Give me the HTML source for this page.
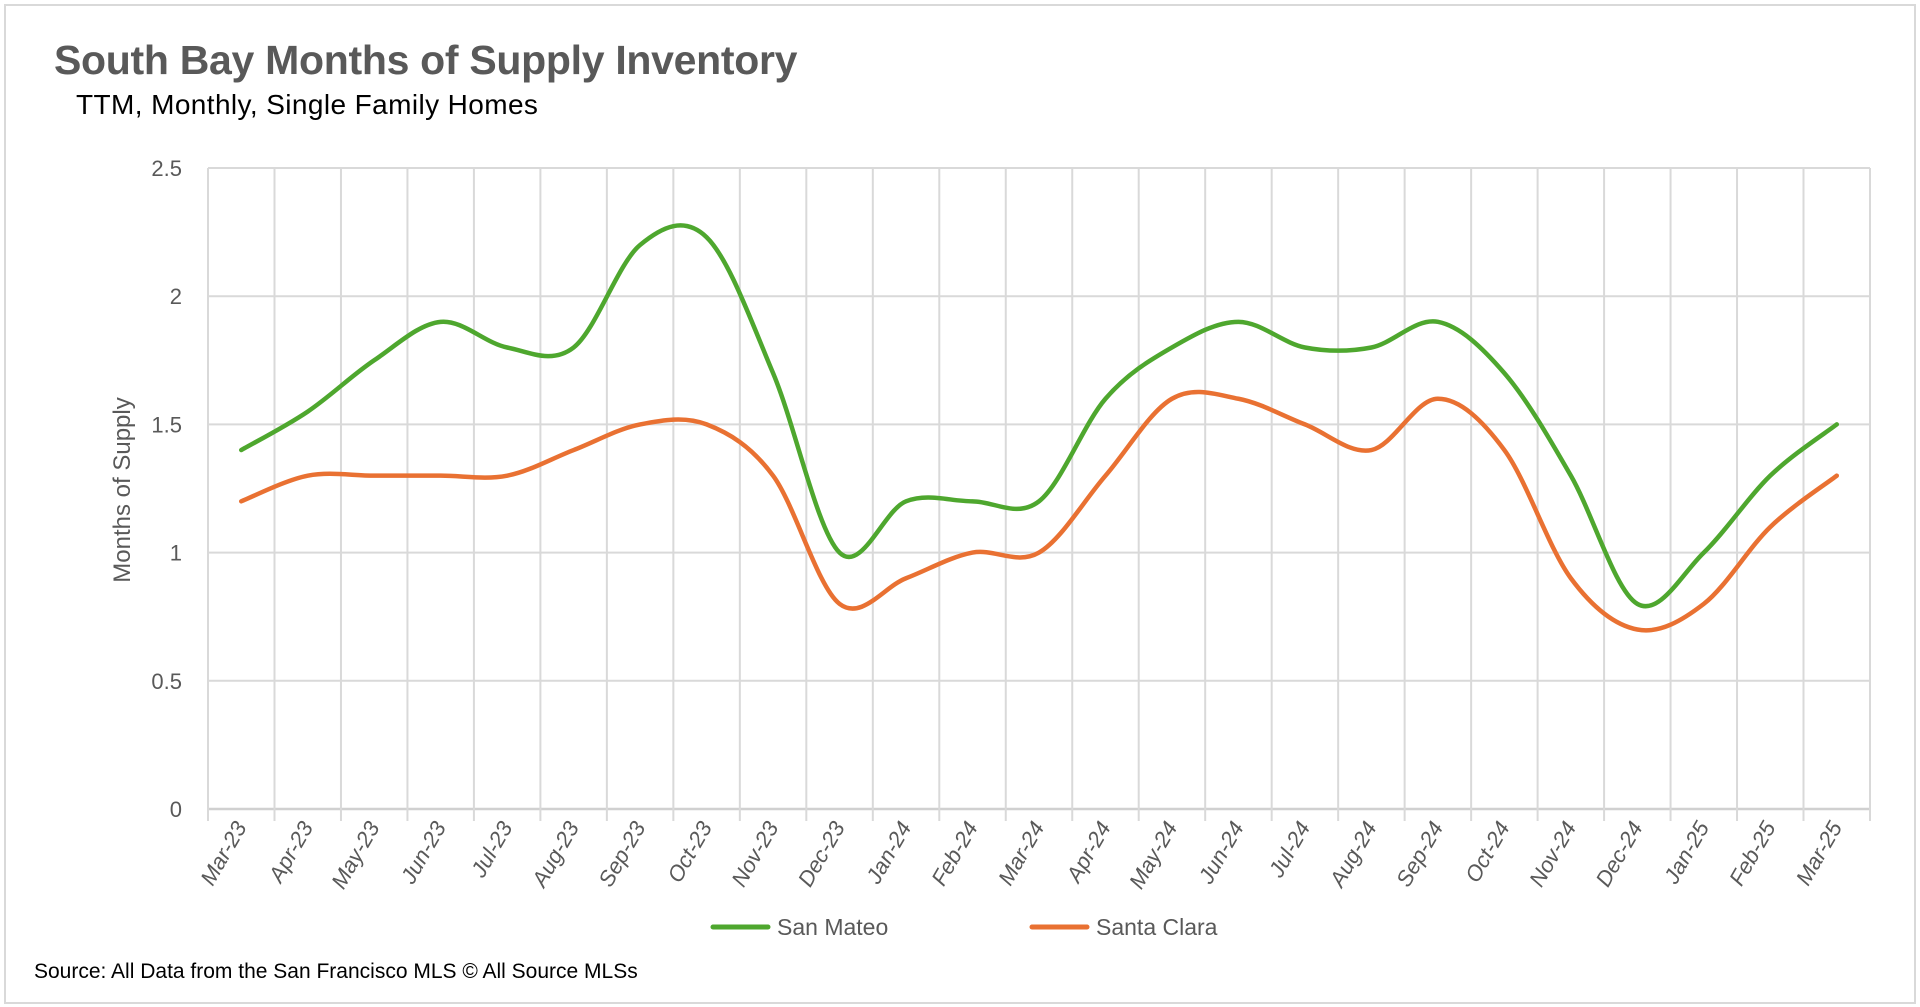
<!DOCTYPE html>
<html><head><meta charset="utf-8"><style>
html,body{margin:0;padding:0;background:#fff;}
body{width:1920px;height:1007px;overflow:hidden;position:relative;font-family:"Liberation Sans Narrow","Liberation Sans",sans-serif;}
#frame{position:absolute;left:4px;top:4px;width:1908px;height:996px;border:2px solid #d9d9d9;box-sizing:content-box;}
.t{position:absolute;white-space:nowrap;}
</style></head><body>
<div id="frame"></div>
<div class="t" style="left:54px;top:37px;font-size:41px;font-weight:bold;color:#595959;letter-spacing:-0.3px;">South Bay Months of Supply Inventory</div>
<div class="t" style="left:76px;top:89px;font-size:28px;color:#000;letter-spacing:0.4px;">TTM, Monthly, Single Family Homes</div>
<div class="t" style="left:34px;top:960px;font-size:21px;color:#000;">Source: All Data from the San Francisco MLS © All Source MLSs</div>
<svg id="chart" width="1920" height="1007" style="position:absolute;left:0;top:0"></svg>
<script>
const categories=["Mar-23","Apr-23","May-23","Jun-23","Jul-23","Aug-23","Sep-23","Oct-23","Nov-23","Dec-23","Jan-24","Feb-24","Mar-24","Apr-24","May-24","Jun-24","Jul-24","Aug-24","Sep-24","Oct-24","Nov-24","Dec-24","Jan-25","Feb-25","Mar-25"];
const sanMateo=[1.4,1.55,1.75,1.9,1.8,1.8,2.2,2.23,1.7,1.0,1.2,1.2,1.2,1.6,1.8,1.9,1.8,1.8,1.9,1.7,1.3,0.8,1.0,1.3,1.5];
const santaClara=[1.2,1.3,1.3,1.3,1.3,1.4,1.5,1.5,1.3,0.8,0.9,1.0,1.0,1.3,1.6,1.6,1.5,1.4,1.6,1.4,0.9,0.7,0.8,1.1,1.3];
const yTicks=[0,0.5,1,1.5,2,2.5];
const yTickLabels=["0","0.5","1","1.5","2","2.5"];
const NS="http://www.w3.org/2000/svg";
const svg=document.getElementById('chart');
const L=208,R=1870,T=168,B=809,yMax=2.5;
const bw=(R-L)/categories.length;
function xPos(i){return L+(i+0.5)*bw;}
function yPos(v){return B-(v/yMax)*(B-T);}
function mk(tag,attrs){const e=document.createElementNS(NS,tag);for(const k in attrs)e.setAttribute(k,attrs[k]);svg.appendChild(e);return e;}
yTicks.forEach((v,i)=>{
  const g=mk('line',{x1:L,x2:R,y1:yPos(v),y2:yPos(v),stroke:v===0?'#d0d0d0':'#d9d9d9','stroke-width':v===0?2.5:2});
  
  
  const t=mk('text',{x:L-26,y:yPos(v)+8,'text-anchor':'end','font-size':22,fill:'#595959','font-family':'Liberation Sans Narrow, Liberation Sans, sans-serif'});
  t.textContent=yTickLabels[i];
  
  
});
for(let i=0;i<=categories.length;i++){
  const x=L+i*bw;
  const g=mk('line',{x1:x,x2:x,y1:T,y2:B+12,stroke:'#d9d9d9','stroke-width':2});
  
  
}
categories.forEach((c,i)=>{
  const x=xPos(i)+6,y=B+18;
  const t=mk('text',{x:x,y:y,'text-anchor':'end','font-size':22,fill:'#595959','font-family':'Liberation Sans, sans-serif','font-style':'italic',transform:`rotate(-60 ${x} ${y})`});
  t.textContent=c;
  
  
});
const yt=mk('text',{x:0,y:0,'text-anchor':'middle','font-size':24,fill:'#595959',transform:'translate(130 490) rotate(-90)','font-family':'Liberation Sans Narrow, Liberation Sans, sans-serif'});
yt.textContent='Months of Supply';


function smooth(vals){
  const p=vals.map((v,i)=>[xPos(i),yPos(v)]);
  let d=`M${p[0][0]},${p[0][1]}`;
  const k=1/6;
  for(let i=0;i<p.length-1;i++){
    const p0=p[Math.max(0,i-1)],p1=p[i],p2=p[i+1],p3=p[Math.min(p.length-1,i+2)];
    const c1=[p1[0]+(p2[0]-p0[0])*k,p1[1]+(p2[1]-p0[1])*k];
    const c2=[p2[0]-(p3[0]-p1[0])*k,p2[1]-(p3[1]-p1[1])*k];
    d+=` C${c1[0]},${c1[1]} ${c2[0]},${c2[1]} ${p2[0]},${p2[1]}`;
  }
  return d;
}
const s1=mk('path',{d:smooth(sanMateo),fill:'none',stroke:'#4ea72e','stroke-width':4.5,'stroke-linecap':'round'});


const s2=mk('path',{d:smooth(santaClara),fill:'none',stroke:'#e97132','stroke-width':4.5,'stroke-linecap':'round'});


const legend=[["San Mateo","#4ea72e",713],["Santa Clara","#e97132",1032]];
legend.forEach(([n,c,x])=>{
  const l=mk('line',{x1:x,x2:x+55,y1:927,y2:927,stroke:c,'stroke-width':5,'stroke-linecap':'round'});
  
  
  const t=mk('text',{x:x+64,y:935,'font-size':23,fill:'#595959','font-family':'Liberation Sans Narrow, Liberation Sans, sans-serif'});
  t.textContent=n;
  
  
});
</script>
</body></html>
